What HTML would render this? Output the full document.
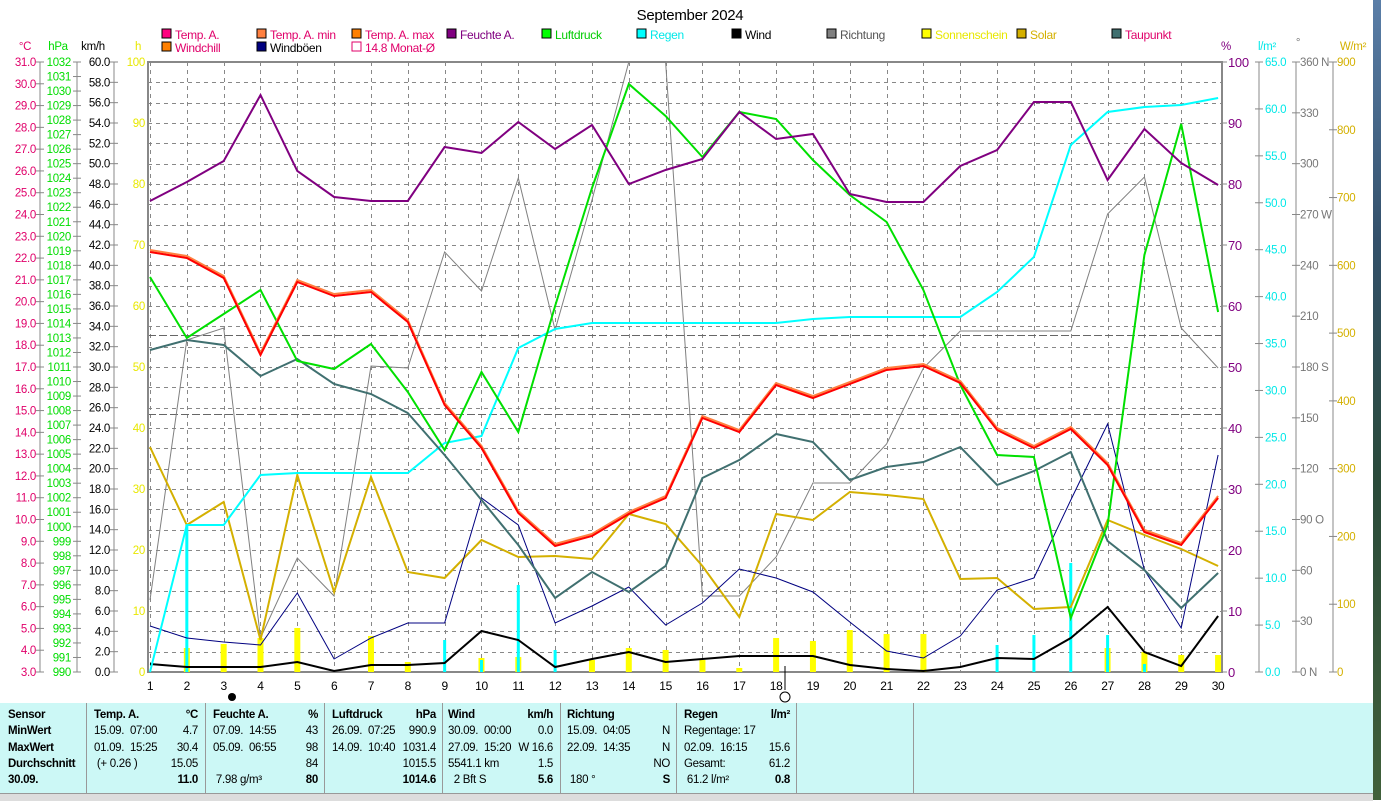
<!DOCTYPE html><html><head><meta charset="utf-8"><style>
body{margin:0;width:1381px;height:800px;overflow:hidden;background:#fff;font-family:"Liberation Sans",sans-serif;}
svg{position:absolute;left:0;top:0}
#tbl{position:absolute;left:0;top:703px;width:1373px;height:90px;background:#ccf8f6;font-size:11.5px;letter-spacing:-0.3px;font-family:"Liberation Sans",sans-serif;}
.c{position:absolute;top:4px;line-height:16.3px;white-space:pre}
.d{position:absolute;top:0;width:1px;height:90px;background:#999}
#strip{position:absolute;left:1373px;top:0;width:8px;height:800px;background:linear-gradient(#5a7ea8,#33506a 30%,#2a4a3a 60%,#40603a)}
#bot{position:absolute;left:0;top:793px;width:1373px;height:7px;background:#ddd;border-top:1px solid #999}
</style></head><body>
<svg id="s" width="1381" height="800" xmlns="http://www.w3.org/2000/svg"></svg>
<div id="tbl">
<div class="c" style="left:8px;font-weight:bold">Sensor
MinWert
MaxWert
Durchschnitt
30.09.</div>
<div class="d" style="left:86px"></div>
<div class="c" style="left:94px"><b>Temp. A.</b>
15.09.  07:00
01.09.  15:25
 (+ 0.26 )
</div>
<div class="c" style="left:150px;width:48px;text-align:right"><b>°C</b>
4.7
30.4
15.05
<b>11.0</b></div>
<div class="d" style="left:205px"></div>
<div class="c" style="left:213px"><b>Feuchte A.</b>
07.09.  14:55
05.09.  06:55

 7.98 g/m³</div>
<div class="c" style="left:270px;width:48px;text-align:right"><b>%</b>
43
98
84
<b>80</b></div>
<div class="d" style="left:324px"></div>
<div class="c" style="left:332px"><b>Luftdruck</b>
26.09.  07:25
14.09.  10:40</div>
<div class="c" style="left:380px;width:56px;text-align:right"><b>hPa</b>
990.9
1031.4
1015.5
<b>1014.6</b></div>
<div class="d" style="left:442px"></div>
<div class="c" style="left:448px"><b>Wind</b>
30.09.  00:00
27.09.  15:20
5541.1 km
  2 Bft S</div>
<div class="c" style="left:500px;width:53px;text-align:right"><b>km/h</b>
0.0
W 16.6
1.5
<b>5.6</b></div>
<div class="d" style="left:560px"></div>
<div class="c" style="left:567px"><b>Richtung</b>
15.09.  04:05
22.09.  14:35

 180 °</div>
<div class="c" style="left:620px;width:50px;text-align:right">
N
N
NO
<b>S</b></div>
<div class="d" style="left:676px"></div>
<div class="c" style="left:684px"><b>Regen</b>
Regentage: 17
02.09.  16:15
Gesamt:
 61.2 l/m²</div>
<div class="c" style="left:740px;width:50px;text-align:right"><b>l/m²</b>

15.6
61.2
<b>0.8</b></div>
<div class="d" style="left:796px"></div>
<div class="d" style="left:913px"></div>
</div>
<div id="bot"></div>
<div id="strip"></div>
<script>
const s=document.getElementById('s');let h='';
const T=62,B=672,L=148,R=1222;
const X=i=>150+(i-1)*36.83;
function t(x,y,str,c,anchor,size){h+=`<text x="${x}" y="${y}" fill="${c}" font-size="${size||11.5}" text-anchor="${anchor||'start'}" font-family="Liberation Sans, sans-serif" letter-spacing="-0.3">${str}</text>`;}
for(let i=1;i<=29;i++){let x=Math.round(X(i))+0.5;h+=`<line x1="${x}" y1="${T}" x2="${x}" y2="${B}" stroke="#888" stroke-dasharray="4,4"/>`;}
for(let k=1;k<30;k++){let y=Math.round(T+k*610/30)+0.5;h+=`<line x1="${L}" y1="${y}" x2="${R}" y2="${y}" stroke="#888" stroke-dasharray="4,4"/>`;}
h+=`<line x1="${L}" y1="335.5" x2="${R}" y2="335.5" stroke="#666" stroke-dasharray="8,3"/><line x1="${L}" y1="414.5" x2="${R}" y2="414.5" stroke="#666" stroke-dasharray="8,3"/>`;
h+=`<rect x="${L}" y="${T}" width="${R-L}" height="${B-T}" fill="none" stroke="#888" stroke-width="2"/>`;
function axis(ax,n,fmt,c,lx,anchor){h+=`<line x1="${ax}" y1="${T}" x2="${ax}" y2="${B}" stroke="#888"/>`;for(let k=0;k<=n;k++){let y=T+k*610/n;h+=`<line x1="${ax-4}" y1="${y}" x2="${ax+4}" y2="${y}" stroke="#888"/>`;t(lx,y+4,fmt(k),c,anchor);}}
axis(40,28,k=>(31-k).toFixed(1),'#e0006a',36,'end');
axis(77,42,k=>1032-k,'#00dd00',71,'end');
axis(114,30,k=>(60-2*k).toFixed(1),'#000',110,'end');
for(let k=0;k<=10;k++){t(145,T+k*61+4,100-10*k,'#e8e800','end');}
for(let k=0;k<=10;k++){let y=T+k*61;h+=`<line x1="${R}" y1="${y}" x2="${R+5}" y2="${y}" stroke="#888"/>`;t(1228,y+5,100-10*k,'#800080','start',13);}
axis(1259,13,k=>(65-5*k).toFixed(1),'#00e8e8',1265,'start');
const dl={0:' N',3:' W',6:' S',9:' O',12:' N'};
axis(1296,12,k=>(360-30*k)+(dl[k]||''),'#777',1300,'start');
axis(1333,9,k=>900-100*k,'#d4b000',1337,'start');
t(690,20,'September 2024','#000','middle',15);
t(25,50,'°C','#e0006a','middle');t(58,50,'hPa','#00dd00','middle');t(93,50,'km/h','#000','middle');t(138,50,'h','#e8e800','middle');
t(1226,50,'%','#800080','middle');t(1267,50,'l/m²','#00e8e8','middle');t(1298,46,'°','#777','middle');t(1353,50,'W/m²','#d4b000','middle');
const lg=[[162,38,'#ff0080','Temp. A.','#e0006a'],[257,38,'#ff8040','Temp. A. min','#e0006a'],[352,38,'#ff8000','Temp. A. max','#e0006a'],[447,38,'#800080','Feuchte A.','#800080'],[542,38,'#00ff00','Luftdruck','#00cc00'],[637,38,'#00ffff','Regen','#00e8e8'],[732,38,'#000','Wind','#000'],[827,38,'#808080','Richtung','#555'],[922,38,'#ffff00','Sonnenschein','#e8e800'],[1017,38,'#d4b000','Solar','#d4b000'],[1112,38,'#407070','Taupunkt','#e0006a'],[162,51,'#ff8000','Windchill','#e0006a'],[257,51,'#000080','Windböen','#000'],[352,51,'#fff','14.8 Monat-Ø','#e0006a']];
lg.forEach(a=>{h+=`<rect x="${a[0]}" y="${a[1]-9}" width="9" height="9" fill="${a[2]}" stroke="${a[2]=='#fff'?'#e0006a':'#000'}"/>`;t(a[0]+13,a[1]+1,a[3],a[4],'start',12);});
const sun={2:648,3:644,4:638,5:628,7:636,8:662,10:658,11:657,13:660,14:648,15:650,16:660,17:668,18:638,19:641,20:630,21:634,22:634,27:648,28:652,29:655,30:655};
for(const d in sun){h+=`<rect x="${X(+d)-3}" y="${sun[d]}" width="6" height="${B-sun[d]}" fill="#ffff00"/>`;}
const rain={2:525,9:640,10:660,11:585,12:650,24:645,25:635,26:563,27:635,28:664};
for(const d in rain){h+=`<rect x="${X(+d)-1.5}" y="${rain[d]}" width="3" height="${B-rain[d]}" fill="#00ffff"/>`;}
function line(a,c,w){h+=`<polyline fill="none" stroke="${c}" stroke-width="${w}" points="${a.map((y,i)=>X(i+1).toFixed(1)+','+y).join(' ')}"/>`;}
line([600,340,328,638,558,596,366,368,252,291,178,330,200,62,62,596,596,557,483,483,444,368,331,331,331,331,214,177,328,368],'#808080',1);
line([447,525,502,640,475,592,477,572,578,540,557,556,559,514,524,566,617,514,520,492,495,499,579,578,609,607,520,535,549,566],'#d4b000',2);
line([626,638,642,645,593,659,638,623,623,498,525,623,606,587,625,603,569,578,592,622,651,658,636,590,578,500,424,570,628,455],'#000080',1);
line([664,667,667,667,662,671,665,665,663,631,640,667,659,652,662,659,656,656,656,665,669,671,667,658,659,638,607,652,666,616],'#000',2);
line([672,525,525,475,473,473,473,473,443,436,348,329,323,323,323,323,323,323,319,317,317,317,317,292,257,145,112,107,105,98],'#00ffff',2);
line([350,340,345,376,359,384,394,413,455,500,545,598,572,592,566,478,460,434,442,480,467,462,447,485,471,452,541,570,608,573],'#407070',2);
line([277,338,314,290,361,369,344,392,450,372,432,306,188,84,116,157,112,119,160,195,222,290,385,455,457,618,525,255,124,312],'#00e000',2);
line([201,182,161,95,171,197,201,201,147,153,122,149,125,184,170,159,112,139,134,194,202,202,166,150,102,102,180,129,163,185],'#800080',2);
const tp=[252,258,278,355,282,296,292,322,405,448,513,546,536,514,498,418,432,385,398,384,370,366,383,430,448,429,465,532,545,498];
line(tp.map(y=>y-2),'#ff8040',2);line(tp,'#ff0000',2);
for(let i=1;i<=30;i++)t(X(i),690,i,'#000','middle',12);
h+=`<circle cx="232" cy="697" r="4" fill="#000"/><circle cx="785" cy="697" r="5" fill="none" stroke="#000"/><line x1="785" y1="666" x2="785" y2="690" stroke="#000"/>`;
s.innerHTML=h;
</script></body></html>
